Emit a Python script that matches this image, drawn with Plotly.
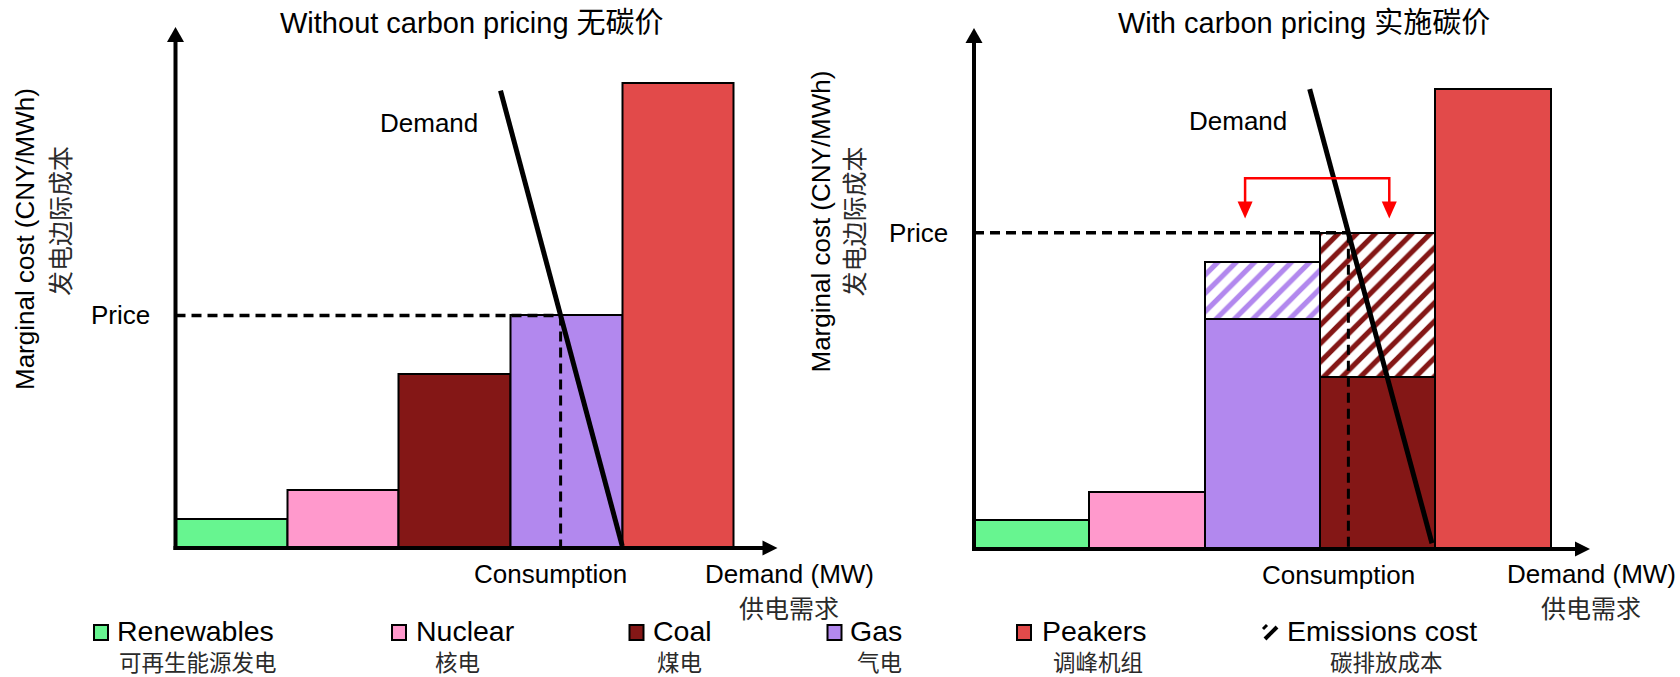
import numpy as np
import plotly.graph_objects as go

W, H = 1680, 677

# ---------------- data ----------------
left_sources = ["Renewables", "Nuclear", "Coal", "Gas", "Peakers"]
left_cost = [30, 60, 180, 240, 480]          # CNY/MWh (schematic)
right_sources = ["Renewables", "Nuclear", "Gas", "Coal", "Peakers"]
right_cost = [30, 60, 240, 180, 480]
right_emissions = [0, 0, 60, 150, 0]         # emissions cost added on top
capacity = [1, 1, 1, 1, 1]                   # MW blocks (schematic)

demand_left_x = [2.91, 4.0]
demand_left_y = [472, 2]
demand_right_x = [2.91, 3.97]
demand_right_y = [480, 6]

bracket_x = [2.35, 3.6]        # red arrows over the emissions-cost blocks
bracket_top = 387
bracket_tip = 345

titles = ["Without carbon pricing 无碳价", "With carbon pricing 实施碳价"]
legend_en = ["Renewables", "Nuclear", "Coal", "Gas", "Peakers", "Emissions cost"]
legend_zh = ["可再生能源发电", "核电", "煤电", "气电", "调峰机组", "碳排放成本"]

colors = {
    "Renewables": "#67F590",
    "Nuclear": "#FF99CC",
    "Coal": "#841716",
    "Gas": "#B288EE",
    "Peakers": "#E24A4A",
}

FONT = "Liberation Sans, Arial, Noto Sans CJK SC, sans-serif"
ZH = "Noto Sans CJK SC, Liberation Sans, sans-serif"
ZH_COLOR = "#2a2a2a"


def px(x):
    return x / W


def py(y):
    return 1 - y / H


# ---------------- layout geometry (pixels) ----------------
panels = [
    dict(x0=175.5, x1=777.5, y0=548, y1=27, xmax=5.39, ymax=537.7, xa="x", ya="y"),
    dict(x0=974, x1=1590, y0=549, y1=28, xmax=5.34, ymax=543.8, xa="x2", ya="y2"),
]


def intersect(cap, total_cost, dx, dy):
    edges = np.concatenate([[0], np.cumsum(cap)])
    for i, c in enumerate(total_cost):
        xd = dx[0] + (dy[0] - c) / (dy[0] - dy[1]) * (dx[1] - dx[0])
        if edges[i] <= xd <= edges[i + 1]:
            return c, xd
    return None, None


fig = go.Figure()
shapes = []
ann = []

specs = [
    (left_sources, left_cost, [0] * 5, demand_left_x, demand_left_y),
    (right_sources, right_cost, right_emissions, demand_right_x, demand_right_y),
]

for k, (srcs, cost, emis, dx, dy) in enumerate(specs):
    p = panels[k]
    xa, ya = p["xa"], p["ya"]
    edges = np.concatenate([[0], np.cumsum(capacity)])
    centers = (edges[:-1] + edges[1:]) / 2
    fig.add_trace(go.Bar(
        x=centers, y=cost, width=capacity, xaxis=xa, yaxis=ya,
        marker=dict(color=[colors[s] for s in srcs], line=dict(color="black", width=2)),
        showlegend=False, hoverinfo="skip",
    ))
    for i, e in enumerate(emis):
        if e > 0:
            col = colors[srcs[i]]
            fig.add_trace(go.Bar(
                x=[centers[i]], y=[e], base=[cost[i]], width=[capacity[i]],
                xaxis=xa, yaxis=ya,
                marker=dict(color="white", line=dict(color="black", width=2),
                            pattern=dict(shape="/", fgcolor=col, bgcolor="white",
                                         size=13, solidity=0.4, fillmode="replace")),
                showlegend=False, hoverinfo="skip",
            ))
    total = [c + e for c, e in zip(cost, emis)]
    price, cons = intersect(capacity, total, dx, dy)
    # price / consumption dashed lines
    fig.add_trace(go.Scatter(
        x=[0, cons], y=[price, price], mode="lines", xaxis=xa, yaxis=ya,
        line=dict(color="black", width=3.5, dash="10px,6px"), showlegend=False, hoverinfo="skip",
    ))
    fig.add_trace(go.Scatter(
        x=[cons, cons], y=[price, 0], mode="lines", xaxis=xa, yaxis=ya,
        line=dict(color="black", width=3, dash="10px,6px"), showlegend=False, hoverinfo="skip",
    ))
    # demand curve
    fig.add_trace(go.Scatter(
        x=dx, y=dy, mode="lines", xaxis=xa, yaxis=ya,
        line=dict(color="black", width=5), showlegend=False, hoverinfo="skip",
    ))
    # axes with arrow heads (paper coordinates, not clipped)
    ox, oy, tx, ty = p["x0"], p["y0"], p["x1"], p["y1"]
    shapes.append(dict(type="line", xref="paper", yref="paper", x0=px(ox - 2), y0=py(oy),
                       x1=px(tx - 12), y1=py(oy), line=dict(color="black", width=4)))
    shapes.append(dict(type="line", xref="paper", yref="paper", x0=px(ox), y0=py(oy + 2),
                       x1=px(ox), y1=py(ty + 12), line=dict(color="black", width=4)))
    shapes.append(dict(type="path", xref="paper", yref="paper",
                       path=f"M{px(ox - 8.5)},{py(ty + 15)} L{px(ox + 8.5)},{py(ty + 15)} "
                            f"L{px(ox)},{py(ty)} Z",
                       fillcolor="black", line=dict(width=0)))
    shapes.append(dict(type="path", xref="paper", yref="paper",
                       path=f"M{px(tx - 15)},{py(oy - 7.5)} L{px(tx - 15)},{py(oy + 7.5)} "
                            f"L{px(tx)},{py(oy)} Z",
                       fillcolor="black", line=dict(width=0)))
    # labels
    ann.append(dict(text="Price", xref=xa, yref=ya, x=0, y=price, xanchor="right",
                    yanchor="middle", xshift=-24, showarrow=False, font=dict(size=26)))
    ann.append(dict(text="Demand", xref=xa, yref=ya, x=dx[0], y=dy[0], xanchor="right",
                    yanchor="middle", xshift=-21, yshift=-32, showarrow=False, font=dict(size=26)))
    ann.append(dict(text="Consumption", xref=xa, yref=ya, x=cons, y=0, xanchor="center",
                    yanchor="middle", xshift=-10, yshift=-26, showarrow=False, font=dict(size=26)))

# red bracket arrows (right panel)
fig.add_trace(go.Scatter(
    x=[bracket_x[0], bracket_x[0], bracket_x[1], bracket_x[1]],
    y=[bracket_tip + 10, bracket_top, bracket_top, bracket_tip + 10],
    mode="lines", xaxis="x2", yaxis="y2", line=dict(color="#FF0000", width=2.5),
    showlegend=False, hoverinfo="skip",
))
for bx in bracket_x:
    shapes.append(dict(type="path", xref="x2", yref="y2", xsizemode="pixel", ysizemode="pixel",
                       xanchor=bx, yanchor=bracket_tip, path="M-7.5,17 L7.5,17 L0,0 Z",
                       fillcolor="#FF0000", line=dict(width=0)))

# titles
for t, cx in zip(titles, [472, 1304]):
    ann.append(dict(text=t, xref="paper", yref="paper", x=px(cx), y=py(23), xanchor="center",
                    yanchor="middle", showarrow=False, font=dict(size=29)))

# y-axis labels
for ex, ey, zx, zy in [(25, 239, 58.5, 221.5), (820, 221.5, 852, 221.5)]:
    ann.append(dict(text="Marginal cost (CNY/MWh)", xref="paper", yref="paper", x=px(ex), y=py(ey),
                    textangle=-90, xanchor="center", yanchor="middle", showarrow=False,
                    font=dict(size=26)))
    ann.append(dict(text="发电边际成本", xref="paper", yref="paper", x=px(zx), y=py(zy),
                    textangle=-90, xanchor="center", yanchor="middle", showarrow=False,
                    font=dict(size=25, family=ZH, color=ZH_COLOR)))

# x-axis labels
for cx in [789, 1591]:
    ann.append(dict(text="Demand (MW)", xref="paper", yref="paper", x=px(cx), y=py(574),
                    xanchor="center", yanchor="middle", showarrow=False, font=dict(size=26)))
    ann.append(dict(text="供电需求", xref="paper", yref="paper", x=px(cx), y=py(607),
                    xanchor="center", yanchor="middle", showarrow=False,
                    font=dict(size=25, family=ZH, color=ZH_COLOR)))

# legend
sq_left = [94, 392, 629.5, 827.5, 1017, 1263]
txt_left = [115, 413.5, 651, 848, 1040, 1285]
zh_center = [198, 458, 679, 879, 1098, 1386]
leg_keys = ["Renewables", "Nuclear", "Coal", "Gas", "Peakers", None]
for key, en, zh, sx, tx, zc in zip(leg_keys, legend_en, legend_zh, sq_left, txt_left, zh_center):
    if key is not None:
        shapes.append(dict(type="rect", xref="paper", yref="paper", x0=px(sx), x1=px(sx + 14),
                           y0=py(640), y1=py(625), fillcolor=colors[key],
                           line=dict(color="black", width=2)))
    else:
        shapes.append(dict(type="line", xref="paper", yref="paper", x0=px(sx + 2), y0=py(639),
                           x1=px(sx + 14), y1=py(627), line=dict(color="black", width=4)))
        shapes.append(dict(type="line", xref="paper", yref="paper", x0=px(sx), y0=py(629),
                           x1=px(sx + 4), y1=py(625), line=dict(color="black", width=3)))
    ann.append(dict(text=en, xref="paper", yref="paper", x=px(tx), y=py(630.5), xanchor="left",
                    yanchor="middle", showarrow=False, font=dict(size=28.5)))
    ann.append(dict(text=zh, xref="paper", yref="paper", x=px(zc), y=py(660.5), xanchor="center",
                    yanchor="middle", showarrow=False,
                    font=dict(size=22.5, family=ZH, color=ZH_COLOR)))

axis_common = dict(visible=False, showgrid=False, zeroline=False, fixedrange=True)
fig.update_layout(
    width=W, height=H, margin=dict(l=0, r=0, t=0, b=0),
    paper_bgcolor="white", plot_bgcolor="white",
    font=dict(family=FONT, color="black", size=26),
    barmode="overlay", bargap=0,
    xaxis=dict(domain=[px(panels[0]["x0"]), px(panels[0]["x1"])], range=[0, panels[0]["xmax"]],
               anchor="y", **axis_common),
    yaxis=dict(domain=[py(panels[0]["y0"]), py(panels[0]["y1"])], range=[0, panels[0]["ymax"]],
               anchor="x", **axis_common),
    xaxis2=dict(domain=[px(panels[1]["x0"]), px(panels[1]["x1"])], range=[0, panels[1]["xmax"]],
                anchor="y2", **axis_common),
    yaxis2=dict(domain=[py(panels[1]["y0"]), py(panels[1]["y1"])], range=[0, panels[1]["ymax"]],
                anchor="x2", **axis_common),
    shapes=shapes, annotations=ann, showlegend=False,
)

fig.write_html("out.html")
